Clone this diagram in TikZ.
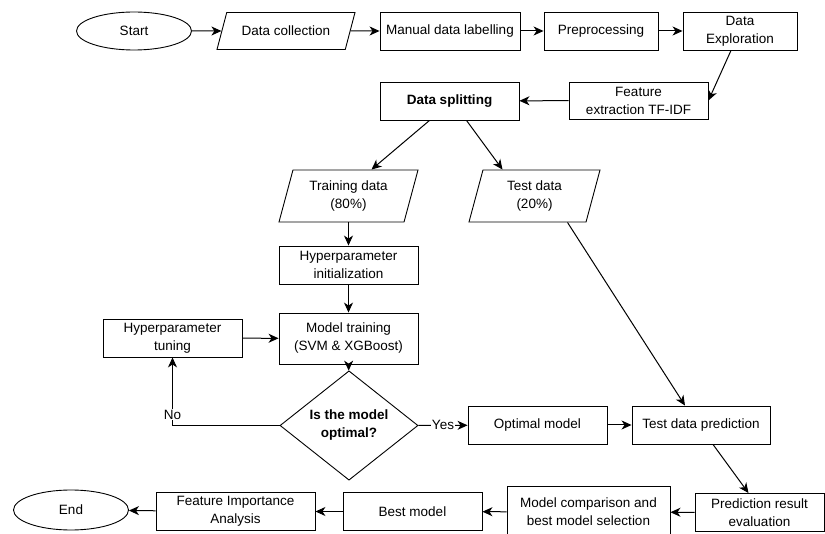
\documentclass[tikz,border=0pt]{standalone}
\usepackage{fontspec}
\setmainfont{Liberation Sans}
\usetikzlibrary{
  	positioning,
  	arrows.meta,
  	shapes.geometric,
  	calc
  }
\tikzstyle{box}=[rectangle,draw,line width=0.9pt,minimum width=139pt,minimum height=38pt,align=center,inner sep=2pt]
\tikzstyle{term}=[ellipse,draw,line width=0.9pt,minimum width=115pt,minimum height=38pt,inner sep=0pt]
\tikzstyle{io}=[trapezium,draw,line width=0.9pt,align=center,trapezium stretches body,inner sep=2pt]
\tikzstyle{dec}=[diamond,draw,line width=0.9pt,align=center,minimum width=138pt,minimum height=79pt,inner sep=0pt,font={\fontsize{13.5}{18}\selectfont\bfseries}]
\tikzstyle{arr}=[line width=1pt,-{Stealth[length=10pt,width=9pt,inset=3pt]}]

\begin{document}
\begin{tikzpicture}[x=1pt,y=-1pt,font=\fontsize{13.5}{18}\selectfont]
\useasboundingbox (0,0) rectangle (825,534);
% first row
\node[term] (st) at (134,31) {Start};
\node[io,minimum width=138pt,minimum height=37pt,trapezium left angle=55,trapezium right angle=125] (dc) at (286,31) {Data collection};
\node[box,minimum width=140pt] (lab) at (450,31) {Manual data labelling};
\node[box,minimum width=114pt] (pre) at (601,31) {Preprocessing};
\node[box,minimum width=114pt] (exp) at (740,31) {Data\\Exploration};
% splitting
\node[box,minimum height=37pt] (tfidf) at (638.5,100.5) {Feature\\extraction TF-IDF};
\node[box,font={\fontsize{13.5}{18}\selectfont\bfseries}] (split) at (449.5,101) {Data splitting};
\node[io,minimum width=139pt,minimum height=52pt,trapezium left angle=68,trapezium right angle=112] (train) at (348.5,196) {Training data\\(80\%)};
\node[io,minimum width=131pt,minimum height=52pt,trapezium left angle=68,trapezium right angle=112] (test) at (534.5,196) {Test data\\(20\%)};
% training loop
\node[box] (init) at (348.5,265) {Hyperparameter\\initialization};
\node[box,minimum height=51pt] (fit) at (348.5,338.5) {Model training\\(SVM \& XGBoost)};
\node[box] (tune) at (172.5,338) {Hyperparameter\\tuning};
\node[dec] (q) at (349,425.5) {Is the model\\optimal?};
\node[box] (opt) at (537.5,425) {Optimal model};
\node[box,minimum width=138pt] (tdp) at (701,425) {Test data prediction};
% last row
\node[box,minimum width=129pt] (eval) at (759.5,512.5) {Prediction result\\evaluation};
\node[box,minimum width=163pt,minimum height=52pt] (cmp) at (588.5,512) {Model comparison and\\best model selection};
\node[box] (best) at (412.5,511.5) {Best model};
\node[box,minimum width=159pt] (fia) at (235.5,511.5) {Feature Importance\\Analysis};
\node[term,minimum height=40pt] (end) at (71,510) {End};

\draw[arr] (st) -- (dc);
\draw[arr] (dc) -- (lab);
\draw[arr] (lab) -- (pre);
\draw[arr] (pre) -- (exp);
\draw[arr] ([xshift=-9pt]exp.south) -- (tfidf.east);
\draw[arr] (tfidf) -- (split);
\draw[arr] ([xshift=-20pt]split.south) -- ([xshift=23pt]train.north);
\draw[arr] ([xshift=17pt]split.south) -- ([xshift=-32pt]test.north);
\draw[arr] (train.south -| init.north) -- (init);
\draw[arr] (init) -- (fit);
\draw[arr] (fit) -- (q);
\draw[arr] (q.west) -| node[pos=0.58,fill=white,inner sep=1pt] {No} (tune.south);
\draw[arr] (tune) -- (fit);
\draw[arr] (q.east) -- node[fill=white,inner sep=0.5pt] {Yes} (opt);
\draw[arr] (opt) -- (tdp);
\draw[arr] ([xshift=33pt]test.south) -- ([xshift=-16pt]tdp.north);
\draw[arr] ([xshift=12pt]tdp.south) -- ([xshift=-11pt]eval.north);
\draw[arr] (eval) -- (cmp);
\draw[arr] (cmp) -- (best);
\draw[arr] (best) -- (fia);
\draw[arr] (fia) -- (end);
\end{tikzpicture}
\end{document}
